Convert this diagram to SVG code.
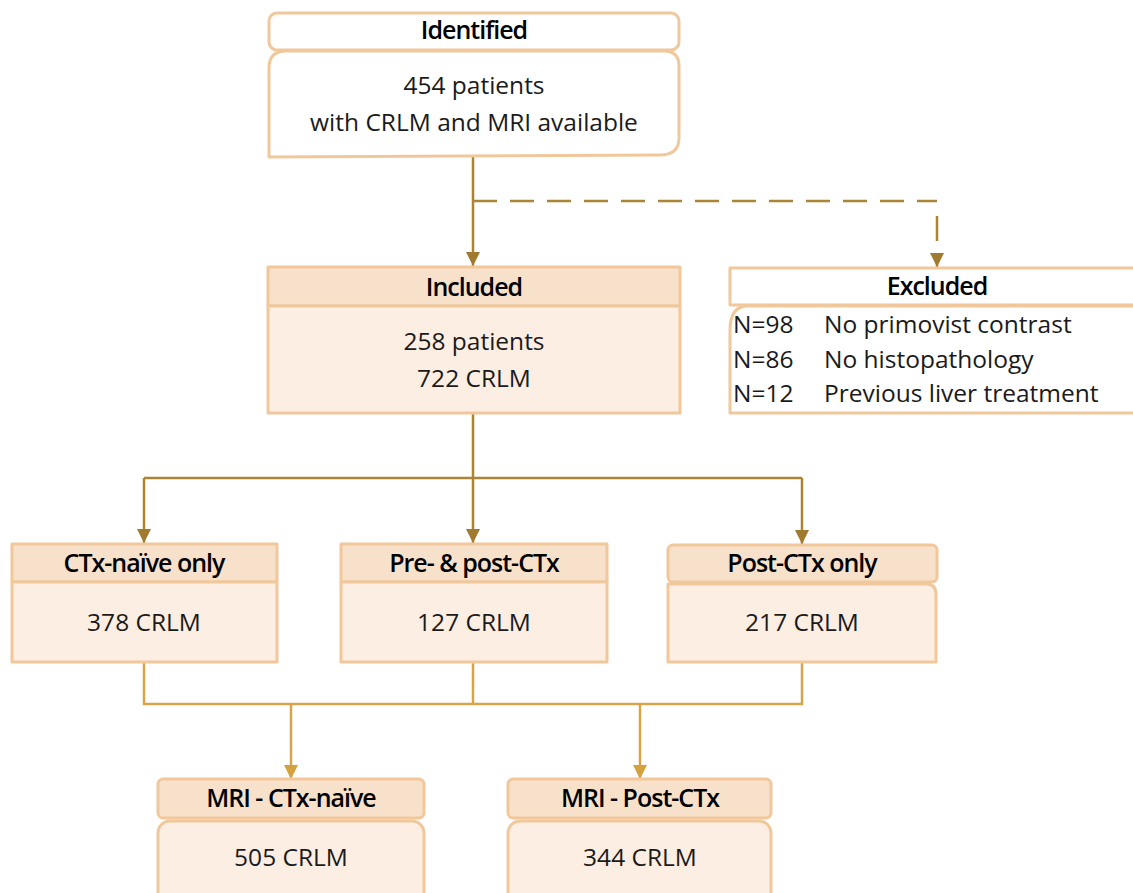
<svg xmlns="http://www.w3.org/2000/svg" width="1133" height="893" viewBox="0 0 1133 893">
<defs>
<style>
.hdr{fill:#f8e1cb;stroke:#f0c89c;stroke-width:3;stroke-linejoin:round}
.bdy{fill:#fdeee3;stroke:#f0c89c;stroke-width:3;stroke-linejoin:round}
.wht{fill:#ffffff;stroke:#f0c89c;stroke-width:3;stroke-linejoin:round}
.ht{font-family:"Open Sans","Noto Sans","DejaVu Sans",sans-serif;font-weight:600;font-size:25px;fill:#000;text-anchor:middle;letter-spacing:-1px}
.bt{font-family:"Open Sans","Noto Sans","DejaVu Sans",sans-serif;font-size:24.5px;fill:#1a1a1a;text-anchor:middle}
.lt{font-family:"Open Sans","Noto Sans","DejaVu Sans",sans-serif;font-size:24.5px;fill:#1a1a1a}
.c1{fill:none;stroke:#ab8434;stroke-width:2.5}
.c2{fill:none;stroke:#d7a44c;stroke-width:2.5}
</style>
<marker id="a1" markerUnits="userSpaceOnUse" markerWidth="16" markerHeight="16" refX="15" refY="8" orient="auto" viewBox="0 0 16 16">
<path d="M1,1 L15,8 L1,15 Z" fill="#a07a2e"/>
</marker>
<marker id="a2" markerUnits="userSpaceOnUse" markerWidth="16" markerHeight="16" refX="15" refY="8" orient="auto" viewBox="0 0 16 16">
<path d="M1,1 L15,8 L1,15 Z" fill="#d4a13f"/>
</marker>
</defs>
<rect width="1133" height="893" fill="#ffffff"/>

<g id="connectors">
<path class="c1" d="M473,157 V266" marker-end="url(#a1)"/>
<path class="c1" d="M473,201 H937" stroke-dasharray="24 13"/>
<path class="c1" d="M937,216 V241"/>
<path class="c1" d="M937,256 V267" marker-end="url(#a1)"/>
<path class="c1" d="M473,413 V478"/>
<path class="c1" d="M144,478 H802"/>
<path class="c1" d="M144,478 V543" marker-end="url(#a1)"/>
<path class="c1" d="M473,478 V543" marker-end="url(#a1)"/>
<path class="c1" d="M802,478 V544" marker-end="url(#a1)"/>
<path class="c2" d="M144,662 V704 H802 V662"/>
<path class="c2" d="M473,662 V704"/>
<path class="c2" d="M291,704 V779" marker-end="url(#a2)"/>
<path class="c2" d="M640,704 V779" marker-end="url(#a2)"/>
</g>

<g id="identified">
<rect class="wht" x="269" y="13" width="410" height="37" rx="8"/>
<path class="wht" d="M269,157 V68 Q269,51 286,51 H664 Q679,51 679,66 V138 Q679,155 660,155 Z"/>
<text class="ht" x="474" y="39">Identified</text>
<text class="bt" x="474" y="94">454 patients</text>
<text class="bt" x="474" y="131">with CRLM and MRI available</text>
</g>

<g id="included">
<rect class="hdr" x="268" y="267" width="412" height="39"/>
<rect class="bdy" x="268" y="306" width="412" height="107"/>
<text class="ht" x="474" y="296">Included</text>
<text class="bt" x="474" y="350">258 patients</text>
<text class="bt" x="474" y="387">722 CRLM</text>
</g>

<g id="excluded">
<rect class="wht" x="730" y="268" width="410" height="37"/>
<path class="wht" d="M1140,306 H748 Q730,306 730,330 V413 H1140"/>
<text class="ht" x="937" y="295">Excluded</text>
<text class="lt" x="733" y="333">N=98</text>
<text class="lt" x="824" y="333">No primovist contrast</text>
<text class="lt" x="733" y="368">N=86</text>
<text class="lt" x="824" y="368">No histopathology</text>
<text class="lt" x="733" y="402">N=12</text>
<text class="lt" x="824" y="402">Previous liver treatment</text>
</g>

<g id="ctx-naive-only">
<rect class="hdr" x="12" y="544" width="265" height="38"/>
<rect class="bdy" x="12" y="582" width="265" height="80"/>
<text class="ht" x="144" y="572">CTx-naïve only</text>
<text class="bt" x="144" y="631">378 CRLM</text>
</g>

<g id="pre-post-ctx">
<rect class="hdr" x="341" y="544" width="266" height="38"/>
<rect class="bdy" x="341" y="582" width="266" height="80"/>
<text class="ht" x="474" y="572">Pre- &amp; post-CTx</text>
<text class="bt" x="474" y="631">127 CRLM</text>
</g>

<g id="post-ctx-only">
<rect class="hdr" x="668" y="545" width="269" height="37" rx="5"/>
<path class="bdy" d="M668,584 H926 Q936,584 936,594 V662 H668 Z"/>
<text class="ht" x="802" y="572">Post-CTx only</text>
<text class="bt" x="802" y="631">217 CRLM</text>
</g>

<g id="mri-ctx-naive">
<rect class="hdr" x="158" y="779" width="266" height="39" rx="5"/>
<rect class="bdy" x="158" y="821" width="266" height="90" rx="12"/>
<text class="ht" x="291" y="807">MRI - CTx-naïve</text>
<text class="bt" x="291" y="866">505 CRLM</text>
</g>

<g id="mri-post-ctx">
<rect class="hdr" x="508" y="779" width="263" height="39" rx="5"/>
<rect class="bdy" x="508" y="821" width="263" height="90" rx="12"/>
<text class="ht" x="640" y="807">MRI - Post-CTx</text>
<text class="bt" x="640" y="866">344 CRLM</text>
</g>
</svg>
